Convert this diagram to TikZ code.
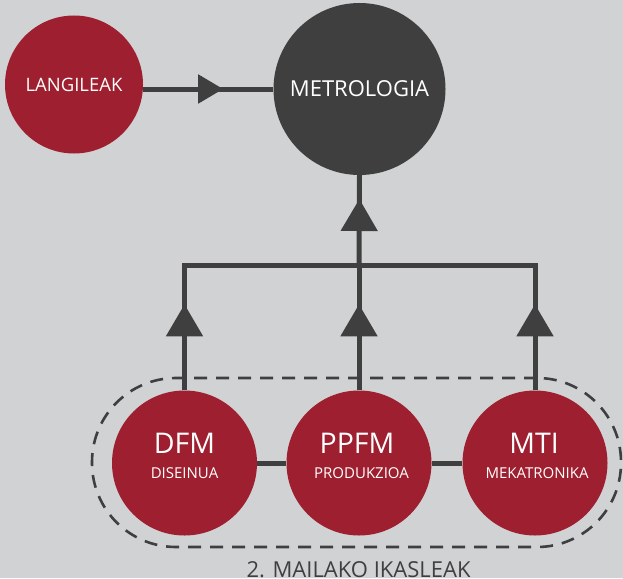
\documentclass[tikz,border=0pt]{standalone}
\usepackage{fontspec}
\setmainfont{Open Sans}
\usetikzlibrary{arrows.meta,decorations.markings}
\definecolor{bg}{HTML}{D1D2D4}
\definecolor{wine}{HTML}{9E1F2F}
\definecolor{dark}{HTML}{3F3F3F}
\tikzset{
  redc/.style={circle, fill=wine, text=white, inner sep=0pt, minimum size=#1},
  darkc/.style={circle, fill=dark, text=white, inner sep=0pt, minimum size=#1},
  bigtxt/.style={text=white, anchor=base, inner sep=0pt, font=\fontsize{28.5}{30}\selectfont},
  subtxt/.style={text=white, anchor=base, inner sep=0pt, font=\fontsize{15}{17}\selectfont},
  conn/.style={draw=dark, line width=5pt},
  bigtip/.style={decoration={markings, mark=at position #1 with {\arrow{Triangle[length=32pt,width=36pt]}}}, postaction={decorate}},
  smalltip/.style={decoration={markings, mark=at position #1 with {\arrow{Triangle[length=25pt,width=28pt]}}}, postaction={decorate}},
  groupbox/.style={draw=dark, line width=2.6pt, dash pattern=on 13pt off 9pt, rounded corners=84pt, minimum width=529pt, minimum height=169pt, inner sep=0pt},
}
\begin{document}
\begin{tikzpicture}[x=1pt,y=-1pt]
\useasboundingbox (0,0) rectangle (623,578);
\fill[bg] (0,0) rectangle (623,578);

\node[groupbox] (group) at (356.5,462.5) {};

\node[redc=138pt, font=\fontsize{18.5}{20}\selectfont] (lang) at (74,84.5) {LANGILEAK};
\node[darkc=172pt, font=\fontsize{22}{24}\selectfont] (metro) at (359.5,89) {METROLOGIA};

\node[redc=145pt] (dfm) at (184.5,463) {};
\node[redc=145pt] (ppfm) at (359,463) {};
\node[redc=145pt] (mti) at (535,463) {};

\node[bigtxt] (dfmT) at (184.5,453) {DFM};
\node[subtxt] (dfmS) at (184.5,478) {DISEINUA};
\node[bigtxt] (ppfmT) at (357,453) {PPFM};
\node[subtxt] (ppfmS) at (361.5,478) {PRODUKZIOA};
\node[bigtxt] (mtiT) at (534,453) {MTI};
\node[subtxt] (mtiS) at (537,478) {MEKATRONIKA};

\node[text=dark, anchor=base, inner sep=0pt, font=\fontsize{22}{24}\selectfont] (lbl) at (358.5,577) {2. MAILAKO IKASLEAK};

\coordinate (junc) at (359,265);

% connectors
\draw[conn, smalltip=80pt] (lang.east |- metro.west) -- (metro.west);
\draw[conn, bigtip=66pt] (junc) -- (metro.south);
\draw[conn, line cap=rect] (dfm.north |- junc) -- (mti.north |- junc);
\draw[conn, bigtip=86pt] (dfm.north) -- (dfm.north |- junc);
\draw[conn, bigtip=86pt] (ppfm.north) -- (junc);
\draw[conn, bigtip=86pt] (mti.north) -- (mti.north |- junc);
\draw[conn] (dfm) -- (ppfm);
\draw[conn] (ppfm) -- (mti);
\end{tikzpicture}
\end{document}
